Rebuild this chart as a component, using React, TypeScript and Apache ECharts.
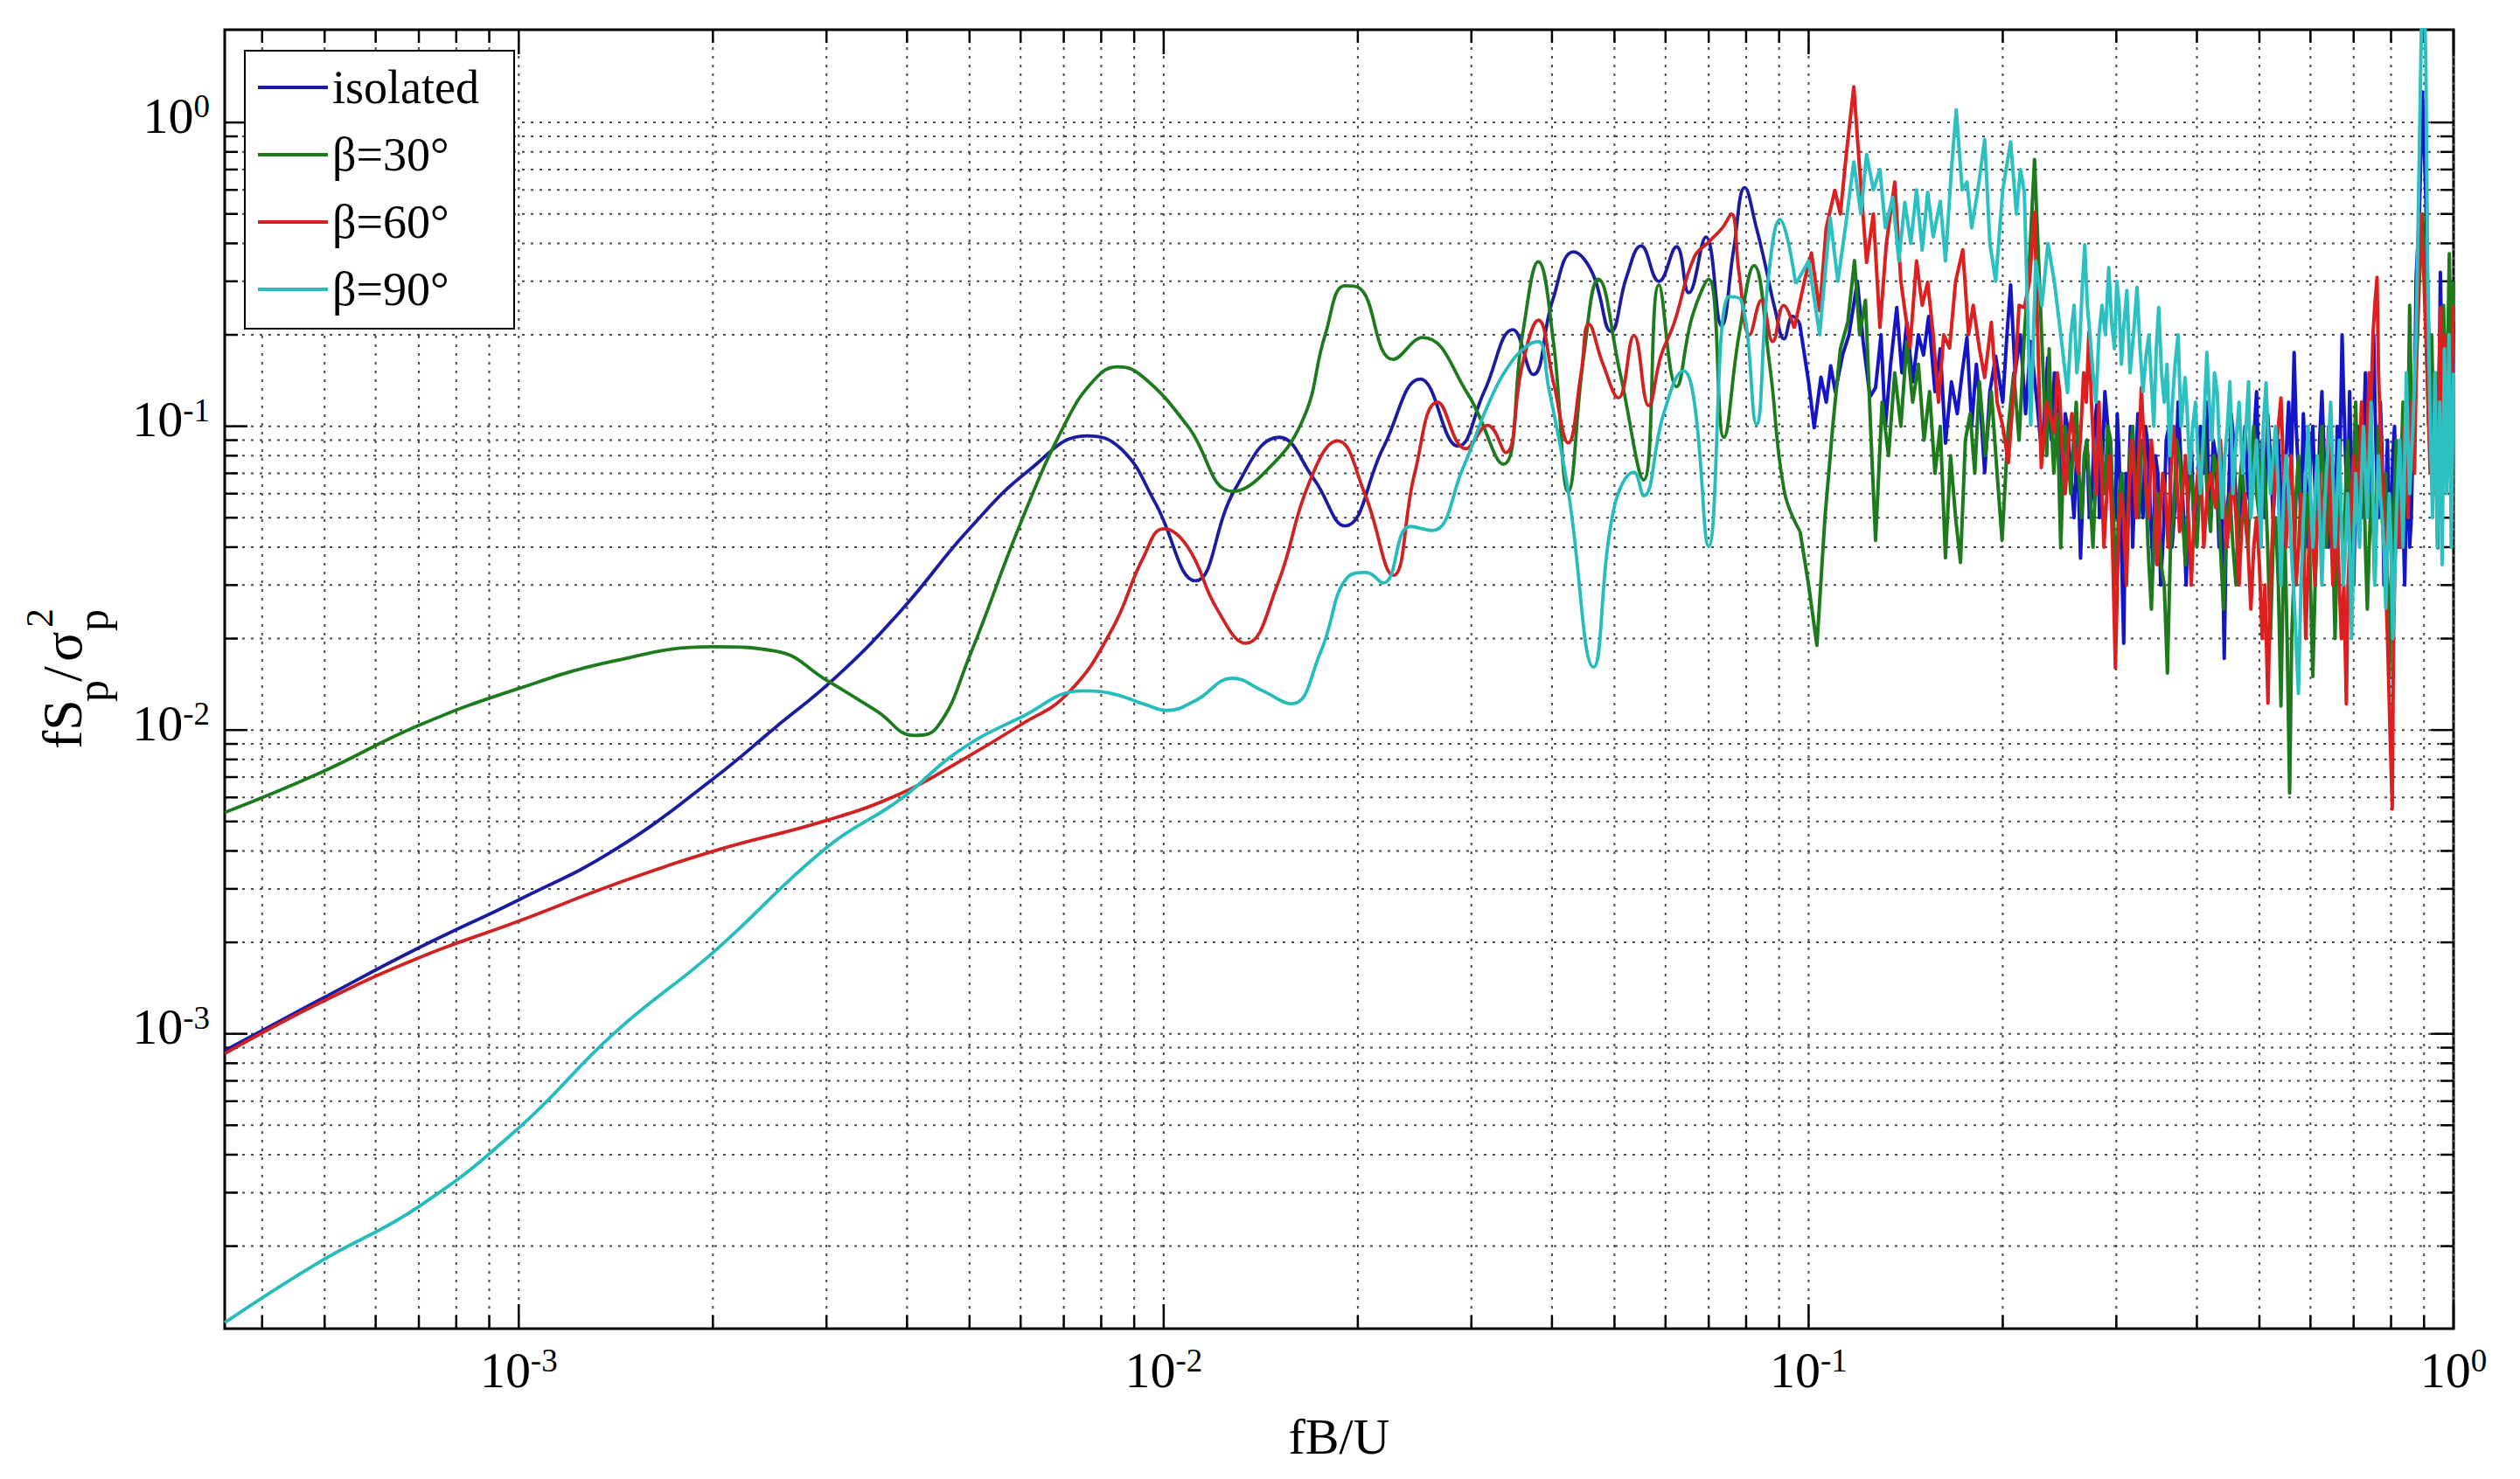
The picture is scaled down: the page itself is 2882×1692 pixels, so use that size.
import { useEffect, useRef } from 'react';
import * as echarts from 'echarts';

const FONT = '"Liberation Serif", "Times New Roman", serif';

const seriesNames = ['isolated', 'β=30°', 'β=60°', 'β=90°'];
const seriesColors = ['#1c1ca0', '#1d7a1d', '#d02222', '#26bcbc'];
const highColors = ['#1414c8', '#1d7a1d', '#dd1f1f', '#2cc0c0'];

const X_MIN = 3.5e-4;
const X_MAX = 1;
const Y_MIN = 1.07e-4;
const Y_MAX = 2.02;

const xMajorTicks = [1e-3, 1e-2, 1e-1, 1];
const xMinorTicks = [
  4e-4, 5e-4, 6e-4, 7e-4, 8e-4, 9e-4,
  2e-3, 3e-3, 4e-3, 5e-3, 6e-3, 7e-3, 8e-3, 9e-3,
  2e-2, 3e-2, 4e-2, 5e-2, 6e-2, 7e-2, 8e-2, 9e-2,
  0.2, 0.3, 0.4, 0.5, 0.6, 0.7, 0.8, 0.9,
];
const yMajorTicks = [1e-3, 1e-2, 1e-1, 1];
const yMinorTicks = [
  2e-4, 3e-4, 4e-4, 5e-4, 6e-4, 7e-4, 8e-4, 9e-4,
  2e-3, 3e-3, 4e-3, 5e-3, 6e-3, 7e-3, 8e-3, 9e-3,
  2e-2, 3e-2, 4e-2, 5e-2, 6e-2, 7e-2, 8e-2, 9e-2,
  0.2, 0.3, 0.4, 0.5, 0.6, 0.7, 0.8, 0.9,
];

// ---- isolated ----
const isolatedLow = [
  [0.00035, 0.00088], [0.00049, 0.00129], [0.0007, 0.00192], [0.001, 0.00276],
  [0.00141, 0.00404], [0.002, 0.0069], [0.0025, 0.0102], [0.0031, 0.0149],
  [0.0039, 0.0245], [0.005, 0.046], [0.0062, 0.072], [0.0076, 0.093],
  [0.0086, 0.084], [0.0097, 0.056], [0.0112, 0.031], [0.0129, 0.062],
  [0.0151, 0.092], [0.0171, 0.067], [0.0191, 0.047], [0.0219, 0.085],
  [0.025, 0.143], [0.0286, 0.086], [0.0314, 0.13], [0.0348, 0.208],
  [0.0374, 0.148], [0.0401, 0.26], [0.0432, 0.375], [0.0462, 0.32],
  [0.0494, 0.205], [0.0522, 0.31], [0.055, 0.392], [0.0586, 0.3],
  [0.0624, 0.39], [0.0652, 0.275], [0.0693, 0.42], [0.0733, 0.214],
  [0.0765, 0.38], [0.0796, 0.61], [0.083, 0.45], [0.0854, 0.35],
  [0.0888, 0.24], [0.0916, 0.194], [0.0945, 0.23], [0.0968, 0.219],
];
const isolatedHigh = [
  [0.0968, 0.219], [0.1, 0.14], [0.102, 0.099], [0.1045, 0.145], [0.1065, 0.12],
  [0.1082, 0.158], [0.11, 0.13], [0.113, 0.173], [0.1155, 0.2], [0.119, 0.3],
  [0.1215, 0.19], [0.1245, 0.125], [0.127, 0.134], [0.1295, 0.2], [0.1315, 0.099],
  [0.134, 0.16], [0.137, 0.246], [0.1395, 0.15], [0.142, 0.22], [0.145, 0.14],
  [0.148, 0.2], [0.1507, 0.1716], [0.1535, 0.23], [0.157, 0.13], [0.16, 0.18],
  [0.163, 0.088], [0.1665, 0.14], [0.17, 0.11], [0.173, 0.15], [0.176, 0.196],
  [0.179, 0.1], [0.182, 0.16], [0.185, 0.11], [0.1875, 0.0703], [0.191, 0.13],
  [0.195, 0.17], [0.2, 0.12], [0.203, 0.2], [0.2057, 0.292], [0.209, 0.15],
  [0.213, 0.2], [0.217, 0.11], [0.221, 0.19], [0.226, 0.12], [0.23, 0.08],
  [0.2348, 0.168], [0.236, 0.11], [0.238, 0.09], [0.2405, 0.15], [0.243, 0.13],
  [0.2455, 0.07], [0.248, 0.06], [0.25, 0.11], [0.252, 0.1], [0.255, 0.07],
  [0.258, 0.05], [0.261, 0.09], [0.264, 0.0368], [0.267, 0.07], [0.27, 0.09],
  [0.2725, 0.05], [0.275, 0.06], [0.2775, 0.1], [0.28, 0.12], [0.2825, 0.05],
  [0.285, 0.07], [0.288, 0.13], [0.291, 0.1], [0.295, 0.06], [0.299, 0.0499],
  [0.301, 0.11], [0.303, 0.08], [0.3055, 0.04], [0.308, 0.0193], [0.3105, 0.07],
  [0.313, 0.06], [0.3155, 0.1], [0.318, 0.04], [0.321, 0.07], [0.324, 0.11],
  [0.327, 0.06], [0.33, 0.05], [0.333, 0.1], [0.336, 0.085], [0.339, 0.05],
  [0.342, 0.035], [0.345, 0.08], [0.348, 0.07], [0.3515, 0.03], [0.355, 0.045],
  [0.3585, 0.09], [0.362, 0.1], [0.366, 0.04], [0.37, 0.055], [0.374, 0.12],
  [0.378, 0.075], [0.3815, 0.05], [0.385, 0.03], [0.3885, 0.07], [0.392, 0.09],
  [0.396, 0.045], [0.4, 0.06], [0.405, 0.1], [0.41, 0.07], [0.4145, 0.12],
  [0.417, 0.06], [0.42, 0.05], [0.424, 0.09], [0.428, 0.08], [0.433, 0.04],
  [0.437, 0.06], [0.441, 0.0172], [0.4445, 0.05], [0.448, 0.06], [0.452, 0.11],
  [0.456, 0.09], [0.4605, 0.05], [0.465, 0.04], [0.47, 0.07], [0.475, 0.1],
  [0.48, 0.06], [0.485, 0.055], [0.49, 0.09], [0.495, 0.13], [0.5, 0.06],
  [0.505, 0.07], [0.51, 0.05], [0.515, 0.11], [0.52, 0.08], [0.525, 0.05],
  [0.53, 0.07], [0.535, 0.09], [0.54, 0.06], [0.545, 0.04], [0.55, 0.08],
  [0.555, 0.12], [0.56, 0.07], [0.566, 0.175], [0.57, 0.1], [0.575, 0.07],
  [0.58, 0.05], [0.585, 0.11], [0.59, 0.07], [0.595, 0.04], [0.6, 0.08],
  [0.605, 0.1], [0.61, 0.06], [0.615, 0.05], [0.62, 0.09], [0.625, 0.13],
  [0.63, 0.08], [0.635, 0.06], [0.64, 0.04], [0.645, 0.09], [0.65, 0.07],
  [0.655, 0.04], [0.66, 0.1], [0.665, 0.06], [0.6717, 0.2], [0.676, 0.12],
  [0.68, 0.08], [0.685, 0.05], [0.69, 0.13], [0.695, 0.07], [0.7, 0.03],
  [0.705, 0.06], [0.71, 0.1], [0.715, 0.08], [0.72, 0.05], [0.725, 0.09],
  [0.73, 0.15], [0.735, 0.1], [0.74, 0.06], [0.746, 0.12], [0.752, 0.2],
  [0.756, 0.11], [0.76, 0.07], [0.765, 0.05], [0.77, 0.12], [0.775, 0.08],
  [0.78, 0.03], [0.785, 0.06], [0.79, 0.09], [0.795, 0.04], [0.8, 0.05],
  [0.805, 0.08], [0.81, 0.1], [0.815, 0.06], [0.82, 0.04], [0.825, 0.07],
  [0.83, 0.08], [0.835, 0.05], [0.84, 0.03], [0.845, 0.06], [0.85, 0.07],
  [0.855, 0.04], [0.86, 0.05], [0.865, 0.09], [0.87, 0.12], [0.875, 0.309],
  [0.885, 0.5], [0.895, 1.26], [0.905, 0.6], [0.915, 0.2], [0.925, 0.08],
  [0.935, 0.15], [0.945, 0.0398], [0.954, 0.321], [0.962, 0.12], [0.97, 0.2],
  [0.978, 0.07], [0.986, 0.15], [0.993, 0.1], [1.0, 0.22],
];

// ---- beta = 30 ----
const beta30Low = [
  [0.00035, 0.00535], [0.00049, 0.0072], [0.0007, 0.01036], [0.001, 0.0137],
  [0.00141, 0.0169], [0.002, 0.0188], [0.0025, 0.0182], [0.003, 0.0146],
  [0.0036, 0.0115], [0.0041, 0.0096], [0.00445, 0.0102], [0.005, 0.0175],
  [0.006, 0.048], [0.007, 0.1], [0.0078, 0.142], [0.0085, 0.157],
  [0.0093, 0.145], [0.0109, 0.1], [0.0128, 0.061], [0.0142, 0.069],
  [0.0164, 0.104], [0.0178, 0.2], [0.0191, 0.29], [0.02, 0.287],
  [0.0227, 0.166], [0.0252, 0.196], [0.0296, 0.128], [0.0336, 0.075],
  [0.036, 0.2], [0.0381, 0.348], [0.0402, 0.19], [0.0424, 0.061],
  [0.0448, 0.17], [0.0472, 0.305], [0.051, 0.15], [0.0555, 0.0666],
  [0.0586, 0.292], [0.0624, 0.135], [0.066, 0.23], [0.07, 0.305],
  [0.0739, 0.092], [0.078, 0.2], [0.0823, 0.338], [0.087, 0.16],
  [0.0917, 0.061], [0.097, 0.045],
];
const beta30High = [
  [0.097, 0.045], [0.1, 0.03], [0.103, 0.019], [0.106, 0.05], [0.109, 0.1],
  [0.112, 0.18], [0.115, 0.22], [0.1178, 0.351], [0.12, 0.2], [0.1225, 0.26],
  [0.125, 0.09], [0.127, 0.0421], [0.13, 0.12], [0.133, 0.08], [0.136, 0.15],
  [0.139, 0.1], [0.142, 0.19], [0.145, 0.12], [0.148, 0.16], [0.151, 0.09],
  [0.154, 0.13], [0.157, 0.07], [0.16, 0.1], [0.163, 0.0369], [0.166, 0.08],
  [0.169, 0.05], [0.172, 0.0356], [0.175, 0.09], [0.178, 0.11], [0.181, 0.07],
  [0.184, 0.14], [0.188, 0.08], [0.192, 0.13], [0.196, 0.07], [0.1995, 0.0421],
  [0.204, 0.1], [0.208, 0.15], [0.212, 0.09], [0.216, 0.2], [0.22, 0.35],
  [0.224, 0.755], [0.228, 0.3], [0.232, 0.12], [0.234, 0.08], [0.236, 0.18],
  [0.238, 0.1], [0.24, 0.07], [0.243, 0.11], [0.246, 0.0398], [0.248, 0.07],
  [0.25, 0.1], [0.2525, 0.08], [0.255, 0.06], [0.2575, 0.09], [0.26, 0.12],
  [0.2625, 0.07], [0.265, 0.05], [0.2675, 0.08], [0.27, 0.09], [0.273, 0.06],
  [0.276, 0.04], [0.279, 0.07], [0.282, 0.11], [0.285, 0.08], [0.288, 0.06],
  [0.291, 0.1], [0.294, 0.09], [0.297, 0.05], [0.3, 0.03], [0.303, 0.06],
  [0.306, 0.07], [0.309, 0.04], [0.312, 0.045], [0.315, 0.08], [0.318, 0.1],
  [0.3215, 0.06], [0.325, 0.05], [0.3285, 0.09], [0.332, 0.08], [0.336, 0.04],
  [0.34, 0.025], [0.344, 0.05], [0.348, 0.06], [0.352, 0.035], [0.356, 0.03],
  [0.36, 0.0154], [0.364, 0.04], [0.368, 0.05], [0.372, 0.09], [0.376, 0.08],
  [0.38, 0.05], [0.384, 0.035], [0.388, 0.06], [0.392, 0.07], [0.396, 0.05],
  [0.4, 0.04], [0.405, 0.07], [0.41, 0.1], [0.415, 0.06], [0.42, 0.045],
  [0.425, 0.08], [0.43, 0.07], [0.435, 0.04], [0.44, 0.025], [0.445, 0.05],
  [0.45, 0.06], [0.455, 0.04], [0.46, 0.03], [0.465, 0.06], [0.47, 0.08],
  [0.475, 0.05], [0.48, 0.04], [0.485, 0.07], [0.49, 0.1], [0.495, 0.06],
  [0.5, 0.05], [0.505, 0.09], [0.51, 0.07], [0.515, 0.04], [0.52, 0.02],
  [0.525, 0.04], [0.53, 0.05], [0.535, 0.03], [0.54, 0.012], [0.544, 0.03],
  [0.548, 0.04], [0.552, 0.02], [0.557, 0.0062], [0.561, 0.02], [0.565, 0.03],
  [0.57, 0.06], [0.575, 0.08], [0.58, 0.05], [0.585, 0.03], [0.59, 0.05],
  [0.595, 0.06], [0.6, 0.03], [0.605, 0.015], [0.61, 0.03], [0.615, 0.05],
  [0.62, 0.07], [0.625, 0.1], [0.63, 0.06], [0.635, 0.04], [0.64, 0.05],
  [0.645, 0.07], [0.65, 0.04], [0.655, 0.02], [0.66, 0.04], [0.665, 0.06],
  [0.67, 0.05], [0.675, 0.035], [0.68, 0.06], [0.685, 0.09], [0.69, 0.06],
  [0.695, 0.04], [0.7, 0.07], [0.705, 0.12], [0.71, 0.07], [0.715, 0.05],
  [0.72, 0.06], [0.725, 0.08], [0.73, 0.04], [0.735, 0.025], [0.74, 0.04],
  [0.745, 0.06], [0.75, 0.05], [0.755, 0.03], [0.76, 0.06], [0.765, 0.1],
  [0.77, 0.07], [0.775, 0.05], [0.78, 0.04], [0.785, 0.07], [0.79, 0.03],
  [0.795, 0.015], [0.8, 0.03], [0.805, 0.04], [0.81, 0.06], [0.815, 0.09],
  [0.82, 0.07], [0.825, 0.05], [0.83, 0.08], [0.835, 0.12], [0.84, 0.09],
  [0.845, 0.06], [0.85, 0.1], [0.855, 0.25], [0.86, 0.12], [0.865, 0.08],
  [0.87, 0.1], [0.875, 0.15], [0.885, 0.3], [0.895, 0.5], [0.905, 0.25],
  [0.915, 0.1], [0.925, 0.2], [0.935, 0.06], [0.945, 0.15], [0.955, 0.08],
  [0.965, 0.25], [0.975, 0.1], [0.985, 0.37], [0.993, 0.15], [1.0, 0.3],
];

// ---- beta = 60 ----
const beta60Low = [
  [0.00035, 0.00086], [0.00049, 0.00126], [0.0007, 0.00178], [0.001, 0.00235],
  [0.00141, 0.00311], [0.002, 0.00399], [0.003, 0.00504], [0.0039, 0.00616],
  [0.0048, 0.00783], [0.006, 0.0104], [0.0071, 0.0132], [0.0083, 0.0213],
  [0.0093, 0.037], [0.01, 0.046], [0.0109, 0.04], [0.0121, 0.025],
  [0.0134, 0.0193], [0.015, 0.03], [0.0168, 0.065], [0.0186, 0.0895],
  [0.0205, 0.06], [0.0227, 0.0323], [0.0245, 0.07], [0.0266, 0.12],
  [0.0294, 0.0844], [0.0318, 0.1007], [0.0339, 0.0819], [0.036, 0.16],
  [0.0381, 0.2235], [0.0402, 0.14], [0.0424, 0.0882], [0.0444, 0.15],
  [0.0456, 0.217], [0.048, 0.16], [0.0507, 0.124], [0.0536, 0.199],
  [0.0565, 0.1168], [0.059, 0.17], [0.0618, 0.217], [0.0664, 0.3586],
  [0.07, 0.404], [0.0735, 0.45], [0.0759, 0.5], [0.078, 0.32],
  [0.081, 0.2], [0.0845, 0.26], [0.088, 0.19], [0.0915, 0.25], [0.095, 0.21],
];
const beta60High = [
  [0.095, 0.21], [0.0985, 0.3], [0.101, 0.372], [0.104, 0.24], [0.1065, 0.45],
  [0.1098, 0.598], [0.112, 0.5], [0.1145, 0.8], [0.1175, 1.31], [0.12, 0.7],
  [0.123, 0.346], [0.126, 0.5], [0.129, 0.2116], [0.132, 0.4], [0.136, 0.637],
  [0.139, 0.3], [0.1436, 0.1814], [0.147, 0.35], [0.15, 0.25], [0.153, 0.298],
  [0.156, 0.2], [0.159, 0.12], [0.162, 0.2], [0.1654, 0.181], [0.169, 0.3],
  [0.1734, 0.381], [0.177, 0.2], [0.18, 0.25], [0.184, 0.18], [0.1875, 0.1447],
  [0.192, 0.22], [0.196, 0.12], [0.2, 0.1], [0.204, 0.0759], [0.209, 0.15],
  [0.212, 0.25], [0.216, 0.246], [0.22, 0.3], [0.224, 0.507], [0.2295, 0.0731],
  [0.234, 0.12], [0.2405, 0.0953], [0.243, 0.15], [0.245, 0.13], [0.2475, 0.08],
  [0.25, 0.06], [0.253, 0.09], [0.256, 0.11], [0.259, 0.08], [0.262, 0.07],
  [0.2645, 0.1], [0.267, 0.15], [0.2695, 0.12], [0.272, 0.204], [0.2745, 0.12],
  [0.277, 0.08], [0.2795, 0.06], [0.282, 0.12], [0.2845, 0.07], [0.287, 0.04],
  [0.29, 0.06], [0.293, 0.08], [0.296, 0.04], [0.299, 0.016], [0.302, 0.04],
  [0.305, 0.06], [0.308, 0.05], [0.311, 0.03], [0.314, 0.06], [0.317, 0.09],
  [0.3195, 0.07], [0.322, 0.05], [0.325, 0.08], [0.328, 0.134], [0.331, 0.09],
  [0.334, 0.06], [0.337, 0.05], [0.34, 0.09], [0.3435, 0.07], [0.347, 0.035],
  [0.3505, 0.05], [0.354, 0.07], [0.3575, 0.06], [0.361, 0.04], [0.3645, 0.07],
  [0.368, 0.1], [0.372, 0.07], [0.376, 0.045], [0.38, 0.06], [0.384, 0.08],
  [0.388, 0.05], [0.392, 0.03], [0.396, 0.05], [0.4, 0.065], [0.405, 0.08],
  [0.41, 0.04], [0.415, 0.06], [0.42, 0.07], [0.4276, 0.054], [0.431, 0.07],
  [0.435, 0.09], [0.44, 0.06], [0.445, 0.04], [0.45, 0.05], [0.455, 0.07],
  [0.46, 0.05], [0.465, 0.03], [0.47, 0.05], [0.475, 0.06], [0.48, 0.04],
  [0.485, 0.025], [0.49, 0.04], [0.495, 0.05], [0.5, 0.035], [0.505, 0.02],
  [0.51, 0.03], [0.5155, 0.01225], [0.52, 0.03], [0.525, 0.05], [0.53, 0.08],
  [0.535, 0.1], [0.54, 0.124], [0.545, 0.07], [0.55, 0.04], [0.555, 0.06],
  [0.56, 0.08], [0.565, 0.05], [0.57, 0.03], [0.575, 0.04], [0.58, 0.06],
  [0.585, 0.04], [0.59, 0.02], [0.595, 0.035], [0.6, 0.05], [0.605, 0.04],
  [0.61, 0.03], [0.615, 0.05], [0.62, 0.07], [0.625, 0.05], [0.63, 0.04],
  [0.635, 0.06], [0.64, 0.1], [0.645, 0.05], [0.65, 0.03], [0.655, 0.04],
  [0.66, 0.05], [0.665, 0.03], [0.67, 0.02], [0.676, 0.03], [0.682, 0.0122],
  [0.686, 0.03], [0.69, 0.04], [0.695, 0.06], [0.7, 0.08], [0.705, 0.06],
  [0.71, 0.05], [0.715, 0.08], [0.72, 0.12], [0.725, 0.08], [0.73, 0.06],
  [0.735, 0.1], [0.74, 0.15], [0.745, 0.12], [0.75, 0.2], [0.755, 0.25],
  [0.761, 0.309], [0.765, 0.15], [0.77, 0.1], [0.775, 0.07], [0.78, 0.05],
  [0.785, 0.03], [0.79, 0.02], [0.797, 0.01], [0.8035, 0.0055], [0.807, 0.02],
  [0.81, 0.03], [0.815, 0.05], [0.82, 0.06], [0.825, 0.04], [0.83, 0.04],
  [0.835, 0.07], [0.84, 0.1], [0.845, 0.07], [0.85, 0.05], [0.855, 0.08],
  [0.86, 0.12], [0.865, 0.09], [0.87, 0.07], [0.875, 0.15], [0.88, 0.25],
  [0.89, 0.5], [0.9, 0.3], [0.91, 0.15], [0.92, 0.07], [0.93, 0.12],
  [0.94, 0.06], [0.954, 0.246], [0.962, 0.1], [0.97, 0.2], [0.978, 0.08],
  [0.986, 0.18], [0.993, 0.12], [1.0, 0.25],
];

// ---- beta = 90 ----
const beta90Low = [
  [0.00035, 0.000112], [0.00049, 0.000177], [0.0007, 0.00027], [0.001, 0.00049],
  [0.00141, 0.00101], [0.002, 0.00185], [0.003, 0.0041], [0.0039, 0.0059],
  [0.0048, 0.0085], [0.006, 0.011], [0.0075, 0.01345], [0.0083, 0.0132],
  [0.0094, 0.0121], [0.0101, 0.0116], [0.0112, 0.0125], [0.0128, 0.0148],
  [0.0142, 0.0135], [0.0158, 0.0122], [0.0175, 0.018], [0.0193, 0.0319],
  [0.0206, 0.033], [0.0219, 0.0305], [0.0241, 0.0468], [0.0261, 0.0454],
  [0.0291, 0.0727], [0.0318, 0.117], [0.0342, 0.157], [0.0365, 0.183],
  [0.0381, 0.19], [0.0395, 0.135], [0.0424, 0.061], [0.0464, 0.0161],
  [0.0498, 0.0525], [0.0536, 0.0706], [0.0555, 0.059], [0.0596, 0.11],
  [0.064, 0.152], [0.0665, 0.12], [0.07, 0.0403], [0.0752, 0.267],
  [0.0785, 0.261], [0.083, 0.1015], [0.0865, 0.3], [0.0903, 0.479], [0.0955, 0.294],
];
const beta90High = [
  [0.0955, 0.294], [0.1, 0.35], [0.104, 0.2], [0.108, 0.486], [0.111, 0.3],
  [0.114, 0.45], [0.1175, 0.741], [0.1205, 0.5], [0.123, 0.784], [0.126, 0.6],
  [0.129, 0.7], [0.1315, 0.45], [0.135, 0.567], [0.138, 0.35], [0.141, 0.546],
  [0.144, 0.4], [0.147, 0.6], [0.15, 0.38], [0.153, 0.589], [0.156, 0.42],
  [0.16, 0.55], [0.163, 0.35], [0.1665, 0.7], [0.1694, 1.1], [0.173, 0.6],
  [0.176, 0.637], [0.179, 0.45], [0.183, 0.6], [0.1875, 0.879], [0.191, 0.4],
  [0.195, 0.3], [0.2, 0.6], [0.2057, 0.863], [0.21, 0.5], [0.213, 0.7],
  [0.216, 0.59], [0.221, 0.1009], [0.225, 0.35], [0.23, 0.25], [0.235, 0.4],
  [0.2405, 0.298], [0.246, 0.2], [0.252, 0.129], [0.255, 0.2], [0.258, 0.25],
  [0.2605, 0.15], [0.263, 0.18], [0.2655, 0.28], [0.268, 0.396], [0.2705, 0.25],
  [0.273, 0.2], [0.276, 0.15], [0.279, 0.12], [0.282, 0.2], [0.285, 0.25],
  [0.2885, 0.2], [0.292, 0.333], [0.295, 0.22], [0.298, 0.18], [0.3005, 0.3],
  [0.303, 0.25], [0.3055, 0.16], [0.308, 0.2116], [0.3115, 0.28], [0.315, 0.15],
  [0.319, 0.2], [0.323, 0.2866], [0.3265, 0.18], [0.33, 0.13], [0.3335, 0.17],
  [0.337, 0.2], [0.34, 0.14], [0.343, 0.1], [0.346, 0.18], [0.349, 0.246],
  [0.3525, 0.15], [0.356, 0.12], [0.3595, 0.16], [0.363, 0.08], [0.3665, 0.12],
  [0.37, 0.16], [0.374, 0.2], [0.378, 0.1], [0.3835, 0.1447], [0.3865, 0.11],
  [0.39, 0.07], [0.394, 0.1], [0.398, 0.12], [0.4015, 0.08], [0.405, 0.06],
  [0.41, 0.1], [0.4145, 0.175], [0.418, 0.12], [0.422, 0.09], [0.426, 0.15],
  [0.43, 0.13], [0.434, 0.08], [0.438, 0.05], [0.442, 0.08], [0.446, 0.1],
  [0.45, 0.14], [0.455, 0.06], [0.46, 0.09], [0.465, 0.12], [0.471, 0.07],
  [0.477, 0.1027], [0.481, 0.14], [0.485, 0.05], [0.49, 0.07], [0.495, 0.09],
  [0.499, 0.06], [0.503, 0.04], [0.507, 0.1], [0.512, 0.139], [0.516, 0.09],
  [0.52, 0.06], [0.525, 0.08], [0.53, 0.1], [0.535, 0.06], [0.54, 0.03],
  [0.545, 0.06], [0.55, 0.08], [0.555, 0.06], [0.56, 0.04], [0.567, 0.025],
  [0.5747, 0.0132], [0.58, 0.03], [0.585, 0.05], [0.59, 0.07], [0.595, 0.1],
  [0.6, 0.06], [0.605, 0.04], [0.61, 0.06], [0.615, 0.08], [0.62, 0.05],
  [0.625, 0.03], [0.63, 0.05], [0.635, 0.07], [0.64, 0.09], [0.645, 0.12],
  [0.65, 0.07], [0.655, 0.04], [0.66, 0.06], [0.665, 0.09], [0.67, 0.05],
  [0.675, 0.03], [0.68, 0.04], [0.685, 0.06], [0.69, 0.04], [0.695, 0.02],
  [0.7, 0.04], [0.705, 0.07], [0.71, 0.05], [0.715, 0.04], [0.72, 0.07],
  [0.725, 0.1], [0.73, 0.07], [0.735, 0.05], [0.74, 0.08], [0.745, 0.12],
  [0.75, 0.06], [0.755, 0.03], [0.76, 0.05], [0.765, 0.08], [0.77, 0.06],
  [0.775, 0.05], [0.78, 0.04], [0.785, 0.0252], [0.79, 0.04], [0.795, 0.06],
  [0.8, 0.04], [0.805, 0.02], [0.81, 0.03], [0.815, 0.05], [0.82, 0.07],
  [0.825, 0.09], [0.83, 0.06], [0.835, 0.04], [0.84, 0.08], [0.845, 0.15],
  [0.85, 0.09], [0.855, 0.06], [0.86, 0.08], [0.865, 0.1], [0.87, 0.14],
  [0.875, 0.2], [0.885, 0.8], [0.893, 2.5], [0.9, 3], [0.906, 1.5],
  [0.912, 0.3], [0.92, 0.1], [0.928, 0.05], [0.936, 0.15], [0.944, 0.04],
  [0.952, 0.12], [0.96, 0.035], [0.968, 0.18], [0.976, 0.06], [0.984, 0.2],
  [0.992, 0.04], [1.0, 0.15],
];

const lowSets = [isolatedLow, beta30Low, beta60Low, beta90Low];
const highSets = [isolatedHigh, beta30High, beta60High, beta90High];

function powLabel(v: number): string {
  const e = Math.log10(v);
  const r = Math.round(e);
  if (Math.abs(e - r) > 1e-6) return '';
  return `{b|10}{s|${r}}`;
}

const labelRich = {
  b: { fontSize: 58, fontFamily: FONT, color: '#000', lineHeight: 58, verticalAlign: 'bottom' },
  s: { fontSize: 37, fontFamily: FONT, color: '#000', lineHeight: 40, padding: [0, 0, 34, 0], verticalAlign: 'top' },
};

function buildOption() {
  const gridItems: number[][] = [
    ...xMinorTicks.map((v) => [v, 1, 0]),
    ...xMajorTicks.map((v) => [v, 1, 1]),
    ...yMinorTicks.map((v) => [0.001, v, 2]),
    ...yMajorTicks.map((v) => [0.001, v, 3]),
  ];

  const lineSeries: any[] = [];
  seriesNames.forEach((name, i) => {
    lineSeries.push({
      type: 'line', name, data: lowSets[i], symbol: 'none', showSymbol: false,
      smooth: 0.45, clip: true, silent: true, z: 3 + i,
      lineStyle: { color: seriesColors[i], width: 3.8 }, itemStyle: { color: seriesColors[i] },
    });
    lineSeries.push({
      type: 'line', name, data: highSets[i], symbol: 'none', showSymbol: false,
      smooth: false, clip: true, silent: true, z: 3 + i,
      lineStyle: { color: highColors[i], width: 4, join: 'round' }, itemStyle: { color: highColors[i] },
    });
  });

  const yl = (text: string, x: number, y: number, size: number) => ({
    type: 'text', x, y,
    style: { text, fontSize: size, fontFamily: FONT, fill: '#000', textAlign: 'left', textVerticalAlign: 'middle', align: 'left', verticalAlign: 'middle' },
  });

  return {
    animation: false,
    backgroundColor: '#fff',
    textStyle: { fontFamily: FONT },
    grid: {
      left: 257, top: 34, width: 2549, height: 1486,
      show: true, borderColor: '#000', borderWidth: 3, backgroundColor: '#fff',
      containLabel: false, outerBoundsMode: 'none',
    },
    legend: {
      data: seriesNames,
      orient: 'vertical', left: 280, top: 58,
      padding: [12, 40, 15, 15],
      itemGap: 17, itemWidth: 80, itemHeight: 4, icon: 'rect',
      backgroundColor: '#fff', borderColor: '#000', borderWidth: 2, borderRadius: 0,
      textStyle: { fontSize: 54, lineHeight: 60, fontFamily: FONT, color: '#000' },
      selectedMode: false, z: 20,
    },
    xAxis: {
      type: 'log', logBase: 10, min: X_MIN, max: X_MAX,
      axisLine: { show: false }, axisTick: { show: false }, splitLine: { show: false },
      minorTick: { show: false }, minorSplitLine: { show: false },
      axisLabel: { formatter: powLabel, rich: labelRich, margin: 18, color: '#000' },
      name: 'fB/U', nameLocation: 'middle', nameGap: 94,
      nameTextStyle: { fontSize: 58, fontFamily: FONT, color: '#000' },
    },
    yAxis: {
      type: 'log', logBase: 10, min: Y_MIN, max: Y_MAX,
      axisLine: { show: false }, axisTick: { show: false }, splitLine: { show: false },
      minorTick: { show: false }, minorSplitLine: { show: false },
      axisLabel: { formatter: powLabel, rich: labelRich, margin: 17, color: '#000', padding: [0, 0, 16, 0] },
    },
    graphic: [
      {
        type: 'group', x: 93, y: 860, rotation: Math.PI / 2, z: 30,
        children: [
          yl('fS', 3, -22, 64),
          yl('p', 57, 13, 50),
          yl('/', 80, -22, 64),
          yl('σ', 103, -22, 64),
          yl('2', 142, -48, 44),
          yl('p', 138, 13, 50),
        ],
      },
    ],
    series: [
      {
        type: 'custom', name: '__grid', silent: true, z: 1,
        data: gridItems,
        renderItem: (params: any, api: any) => {
          const cs = params.coordSys;
          const kind = api.value(2);
          const major = kind === 1 || kind === 3;
          const gridStyle = { stroke: '#4a4a4a', lineWidth: 2, lineDash: [3, 7] };
          const tickStyle = { stroke: '#000', lineWidth: 2.5 };
          if (kind < 2) {
            const tl = major ? 28 : 15;
            const x = api.coord([api.value(0), api.value(1)])[0];
            return {
              type: 'group',
              children: [
                { type: 'line', shape: { x1: x, y1: cs.y, x2: x, y2: cs.y + cs.height }, style: gridStyle },
                { type: 'line', shape: { x1: x, y1: cs.y + cs.height, x2: x, y2: cs.y + cs.height - tl }, style: tickStyle },
                { type: 'line', shape: { x1: x, y1: cs.y, x2: x, y2: cs.y + tl }, style: tickStyle },
              ],
            };
          }
          const tl = major ? 26 : 15;
          const y = api.coord([api.value(0), api.value(1)])[1];
          return {
            type: 'group',
            children: [
              { type: 'line', shape: { x1: cs.x, y1: y, x2: cs.x + cs.width, y2: y }, style: gridStyle },
              { type: 'line', shape: { x1: cs.x, y1: y, x2: cs.x + tl, y2: y }, style: tickStyle },
              { type: 'line', shape: { x1: cs.x + cs.width, y1: y, x2: cs.x + cs.width - tl, y2: y }, style: tickStyle },
            ],
          };
        },
      },
      ...lineSeries,
    ],
  };
}

export default function App() {
  const ref = useRef<HTMLDivElement>(null);
  useEffect(() => {
    if (!ref.current) return;
    const chart = echarts.init(ref.current, null, { renderer: 'svg' });
    chart.setOption(buildOption() as any);
    return () => chart.dispose();
  }, []);
  return (
    <div
      ref={ref}
      style={{ position: 'fixed', left: 0, top: 0, width: 2882, height: 1692, background: '#fff' }}
    />
  );
}
